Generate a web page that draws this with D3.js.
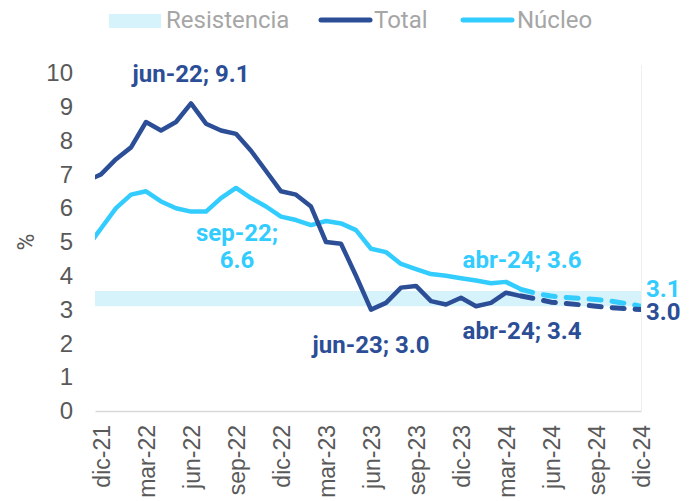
<!DOCTYPE html>
<html>
<head>
<meta charset="utf-8">
<script src="https://cdn.jsdelivr.net/npm/d3@7"></script>
<style>
  body { margin: 0; background: #fff; }
  svg { font-family: Roboto, "Noto Sans", sans-serif; }
</style>
</head>
<body>
<svg width="691" height="501"></svg>
<script>
// meses (nov-21 queda fuera del área, solo se ve el inicio de la línea)
var months = ["nov-21", "dic-21", "ene-22", "feb-22", "mar-22", "abr-22", "may-22", "jun-22", "jul-22", "ago-22",
  "sep-22", "oct-22", "nov-22", "dic-22", "ene-23", "feb-23", "mar-23", "abr-23", "may-23", "jun-23",
  "jul-23", "ago-23", "sep-23", "oct-23", "nov-23", "dic-23", "ene-24", "feb-24", "mar-24", "abr-24",
  "may-24", "jun-24", "jul-24", "ago-24", "sep-24", "oct-24", "nov-24", "dic-24"];

var tickLabels = ["dic-21", "mar-22", "jun-22", "sep-22", "dic-22", "mar-23", "jun-23", "sep-23",
  "dic-23", "mar-24", "jun-24", "sep-24", "dic-24"];

// observado nov-21 .. abr-24
var total = [6.8, 7.0, 7.45, 7.8, 8.55, 8.3, 8.55, 9.1, 8.5, 8.3, 8.2, 7.7, 7.1, 6.5, 6.4, 6.05,
  5.0, 4.95, 4.0, 3.0, 3.2, 3.65, 3.7, 3.25, 3.15, 3.35, 3.1, 3.2, 3.5, 3.4];
var nucleo = [4.8, 5.4, 6.0, 6.4, 6.5, 6.2, 6.0, 5.9, 5.9, 6.3, 6.6, 6.3, 6.05, 5.75, 5.65, 5.5,
  5.62, 5.55, 5.35, 4.8, 4.7, 4.35, 4.2, 4.05, 4.0, 3.93, 3.86, 3.78, 3.82, 3.6];

// proyección abr-24 .. dic-24
var totalProy = [3.4, 3.32, 3.22, 3.18, 3.14, 3.1, 3.06, 3.03, 3.0];
var nucleoProy = [3.6, 3.48, 3.4, 3.36, 3.33, 3.3, 3.25, 3.18, 3.1];

var resistencia = [3.1, 3.55];

var colTotal = "#2b4e96", colNucleo = "#33ccff", colBand = "#d6f3fc";

var svg = d3.select("svg");
var plotL = 95, plotR = 641, plotT = 73, plotB = 411;

var x = d3.scaleLinear().domain([-0.4, 36]).range([plotL, plotR]);
var y = d3.scaleLinear().domain([0, 10]).range([plotB, plotT]);

function idx(m) { return months.indexOf(m) - 1; }

svg.append("defs").append("clipPath").attr("id", "plot")
  .append("rect").attr("x", plotL).attr("y", 0).attr("width", plotR - plotL).attr("height", 501);

// banda de resistencia
svg.append("rect")
  .attr("x", x(-0.4))
  .attr("width", x(36) - x(-0.4))
  .attr("y", y(resistencia[1]))
  .attr("height", y(resistencia[0]) - y(resistencia[1]))
  .attr("fill", colBand);

// borde derecho del área
svg.append("line")
  .attr("x1", plotR + 0.5).attr("x2", plotR + 0.5)
  .attr("y1", plotT - 8).attr("y2", plotB)
  .attr("stroke", "#f0f0f0");

// eje x
var xAxis = svg.append("g")
  .attr("transform", "translate(0," + plotB + ")")
  .call(d3.axisBottom(x)
    .tickValues(tickLabels.map(idx))
    .tickFormat(function(d, i) { return tickLabels[i]; })
    .tickSize(0).tickSizeOuter(0));
xAxis.select(".domain").attr("stroke", "#d9d9d9").attr("stroke-width", 1.5);
xAxis.selectAll("text")
  .attr("transform", "rotate(-90)")
  .attr("text-anchor", "end")
  .attr("x", -14).attr("y", 0).attr("dy", "0.36em")
  .attr("fill", "#595959")
  .style("font-size", "23px");

// eje y
var yAxis = svg.append("g")
  .attr("transform", "translate(" + plotL + ",0)")
  .call(d3.axisLeft(y).ticks(10).tickSize(0).tickPadding(22));
yAxis.select(".domain").remove();
yAxis.selectAll("text").attr("fill", "#595959").style("font-size", "24px");

svg.append("text")
  .attr("transform", "translate(26," + y(5) + ") rotate(-90)")
  .attr("text-anchor", "middle")
  .attr("dy", "0.35em")
  .attr("fill", "#595959")
  .style("font-size", "23px")
  .text("%");

var line = d3.line()
  .x(function(d) { return x(d.i); })
  .y(function(d) { return y(d.v); });

function obs(arr) { return arr.map(function(v, k) { return {i: k - 1, v: v}; }); }
function proy(arr) { var s = idx("abr-24"); return arr.map(function(v, k) { return {i: s + k, v: v}; }); }

var lines = svg.append("g").attr("clip-path", "url(#plot)")
  .attr("fill", "none").attr("stroke-width", 4.5)
  .attr("stroke-linejoin", "round");

lines.append("path").datum(proy(nucleoProy)).attr("d", line)
  .attr("stroke", colNucleo).attr("stroke-width", 5).attr("stroke-dasharray", "12,11").attr("stroke-linecap", "round");
lines.append("path").datum(proy(totalProy)).attr("d", line)
  .attr("stroke", colTotal).attr("stroke-width", 5).attr("stroke-dasharray", "12,11").attr("stroke-linecap", "round");
lines.append("path").datum(obs(nucleo)).attr("d", line).attr("stroke", colNucleo);
lines.append("path").datum(obs(total)).attr("d", line).attr("stroke", colTotal);

// etiquetas
var labels = [
  {m: "jun-22", v: 9.1, dx: 0, dy: -30, t: ["jun-22; 9.1"], c: colTotal, a: "middle"},
  {m: "sep-22", v: 6.6, dx: 1, dy: 45, t: ["sep-22;", "6.6"], c: colNucleo, a: "middle"},
  {m: "jun-23", v: 3.0, dx: 0, dy: 35, t: ["jun-23; 3.0"], c: colTotal, a: "middle"},
  {m: "abr-24", v: 3.6, dx: 1, dy: -30, t: ["abr-24; 3.6"], c: colNucleo, a: "middle"},
  {m: "abr-24", v: 3.4, dx: 1, dy: 35, t: ["abr-24; 3.4"], c: colTotal, a: "middle"},
  {m: "dic-24", v: 3.1, dx: 5, dy: -18, t: ["3.1"], c: colNucleo, a: "start"},
  {m: "dic-24", v: 3.0, dx: 5, dy: 2, t: ["3.0"], c: colTotal, a: "start"}
];

labels.forEach(function(l) {
  var t = svg.append("text")
    .attr("x", x(idx(l.m)) + l.dx)
    .attr("y", y(l.v) + l.dy)
    .attr("text-anchor", l.a)
    .attr("fill", l.c)
    .style("font-size", "24px")
    .style("font-weight", "bold");
  l.t.forEach(function(s, k) {
    t.append("tspan")
      .attr("x", x(idx(l.m)) + l.dx)
      .attr("dy", k === 0 ? "0.35em" : "1.12em")
      .text(s);
  });
});

// leyenda
var legend = svg.append("g").style("font-size", "24px").attr("fill", "#a6a6a6");
legend.append("rect").attr("x", 109).attr("y", 14).attr("width", 52).attr("height", 14).attr("fill", colBand);
legend.append("text").attr("x", 166).attr("y", 20).attr("dy", "0.35em").text("Resistencia");
legend.append("line").attr("x1", 321).attr("x2", 370).attr("y1", 20).attr("y2", 20)
  .attr("stroke", colTotal).attr("stroke-width", 5).attr("stroke-linecap", "round");
legend.append("text").attr("x", 374).attr("y", 20).attr("dy", "0.35em").text("Total");
legend.append("line").attr("x1", 463).attr("x2", 512).attr("y1", 20).attr("y2", 20)
  .attr("stroke", colNucleo).attr("stroke-width", 5).attr("stroke-linecap", "round");
legend.append("text").attr("x", 517).attr("y", 20).attr("dy", "0.35em").text("Núcleo");
</script>
</body>
</html>
